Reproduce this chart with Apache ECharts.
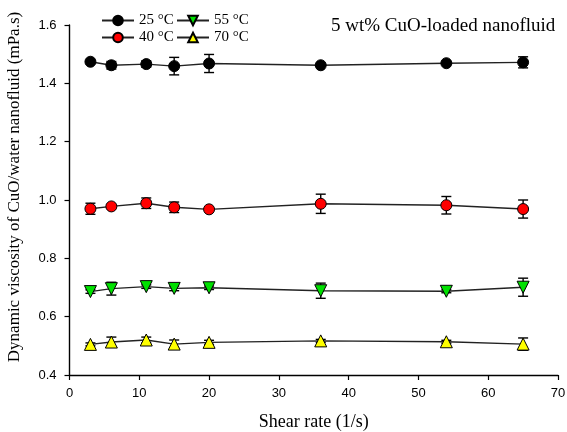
<!DOCTYPE html>
<html>
<head>
<meta charset="utf-8">
<script src="https://cdn.jsdelivr.net/npm/echarts@6/dist/echarts.min.js"></script>
<style>
  html, body { margin: 0; padding: 0; background: #fff; }
  #chart { width: 567px; height: 432px; }
</style>
</head>
<body>
<div id="chart"></div>
<script>
// Shear rate (1/s) at which viscosity was measured
const shearRate = [3, 6, 11, 15, 20, 36, 54, 65];

// Mean dynamic viscosity (mPa.s) and standard deviation per temperature
const visc25 = [1.474, 1.462, 1.466, 1.459, 1.468, 1.462, 1.469, 1.472];
const err25  = [0.004, 0.013, 0.011, 0.030, 0.031, 0.003, 0.004, 0.019];
const visc40 = [0.970, 0.978, 0.989, 0.975, 0.968, 0.987, 0.982, 0.969];
const err40  = [0.019, 0.006, 0.018, 0.018, 0.005, 0.033, 0.030, 0.031];
const visc55 = [0.686, 0.696, 0.703, 0.697, 0.699, 0.689, 0.687, 0.701];
const err55  = [0.006, 0.022, 0.006, 0.008, 0.006, 0.026, 0.005, 0.031];
const visc70 = [0.505, 0.513, 0.520, 0.506, 0.512, 0.517, 0.514, 0.506];
const err70  = [0.005, 0.017, 0.010, 0.014, 0.007, 0.005, 0.005, 0.021];

const seriesNames = ['25 °C', '40 °C', '55 °C', '70 °C'];
const seriesColors = ['#000000', '#ff0000', '#00e000', '#ffff00'];
const seriesSymbols = ['circle', 'circle', 'triangle', 'triangle'];
const seriesRotate = [0, 0, 180, 0];

const xTicks = [0, 10, 20, 30, 40, 50, 60, 70];
const yTicks = [0.4, 0.6, 0.8, 1.0, 1.2, 1.4, 1.6];

const means = [visc25, visc40, visc55, visc70];
const errs = [err25, err40, err55, err70];

const serif = '"Liberation Serif", "Times New Roman", serif';
const sans = '"Liberation Sans", Arial, sans-serif';

function errorBarSeries(mean, err) {
  const data = shearRate.map((x, i) => [x, mean[i] - err[i], mean[i] + err[i]]);
  return {
    type: 'custom',
    silent: true,
    z: 1,
    data: data,
    encode: { x: 0, y: [1, 2] },
    renderItem: function (params, api) {
      const lo = api.coord([api.value(0), api.value(1)]);
      const hi = api.coord([api.value(0), api.value(2)]);
      const half = 5;
      const style = { stroke: '#000', lineWidth: 1.4, fill: null };
      return {
        type: 'group',
        children: [
          { type: 'line', shape: { x1: lo[0], y1: lo[1], x2: hi[0], y2: hi[1] }, style: style },
          { type: 'line', shape: { x1: lo[0] - half, y1: lo[1], x2: lo[0] + half, y2: lo[1] }, style: style },
          { type: 'line', shape: { x1: hi[0] - half, y1: hi[1], x2: hi[0] + half, y2: hi[1] }, style: style }
        ]
      };
    }
  };
}

const series = [];
means.forEach((m, k) => {
  series.push(errorBarSeries(m, errs[k]));
});
means.forEach((m, k) => {
  series.push({
    name: seriesNames[k],
    type: 'line',
    z: 3,
    data: shearRate.map((x, i) => [x, m[i]]),
    symbol: seriesSymbols[k],
    symbolRotate: seriesRotate[k],
    symbolSize: seriesSymbols[k] === 'circle' ? 11 : 12,
    showAllSymbol: true,
    lineStyle: { color: '#222', width: 1.4 },
    itemStyle: { color: seriesColors[k], borderColor: '#000', borderWidth: 1 },
    emphasis: { disabled: true },
    animation: false
  });
});

const legendCommon = {
  orient: 'vertical',
  top: 13,
  padding: 0,
  itemWidth: 32,
  itemHeight: 12,
  itemGap: 2,
  textStyle: { fontFamily: serif, fontSize: 15, color: '#000' },
  selectedMode: false
};

const chart = echarts.init(document.getElementById('chart'));
chart.setOption({
  animation: false,
  backgroundColor: '#fff',
  grid: { left: 69.5, right: 9, top: 25, bottom: 57, containLabel: false, outerBoundsMode: 'none' },
  legend: [
    Object.assign({}, legendCommon, { left: 101, data: [seriesNames[0], seriesNames[1]] }),
    Object.assign({}, legendCommon, { left: 176, data: [seriesNames[2], seriesNames[3]] })
  ],
  xAxis: {
    type: 'value',
    min: xTicks[0],
    max: xTicks[xTicks.length - 1],
    interval: 10,
    name: 'Shear rate (1/s)',
    nameLocation: 'middle',
    nameGap: 38,
    nameTextStyle: { fontFamily: serif, fontSize: 18, color: '#000' },
    axisLine: { lineStyle: { color: '#000', width: 1.4 } },
    axisTick: { inside: false, length: 5, lineStyle: { color: '#000', width: 1.2 } },
    axisLabel: { fontFamily: sans, fontSize: 13, color: '#000', margin: 12 },
    splitLine: { show: false }
  },
  yAxis: {
    type: 'value',
    min: yTicks[0],
    max: yTicks[yTicks.length - 1],
    interval: 0.2,
    axisLine: { show: true, lineStyle: { color: '#000', width: 1.4 } },
    axisTick: { show: true, inside: false, length: 5, lineStyle: { color: '#000', width: 1.2 } },
    axisLabel: {
      fontFamily: sans, fontSize: 13, color: '#000', margin: 13,
      formatter: v => v.toFixed(1)
    },
    splitLine: { show: false }
  },
  graphic: [{
    type: 'text',
    left: 331,
    top: 17,
    style: {
      text: '5 wt% CuO-loaded nanofluid',
      font: '19px ' + serif,
      fill: '#000'
    }
  }, {
    type: 'text',
    x: 15,
    y: 187,
    rotation: Math.PI / 2,
    style: {
      text: 'Dynamic viscosity of CuO/water nanofluid (mPa.s)',
      font: '17px ' + serif,
      fill: '#000',
      align: 'center',
      verticalAlign: 'middle'
    }
  }],
  series: series
});
</script>
</body>
</html>
